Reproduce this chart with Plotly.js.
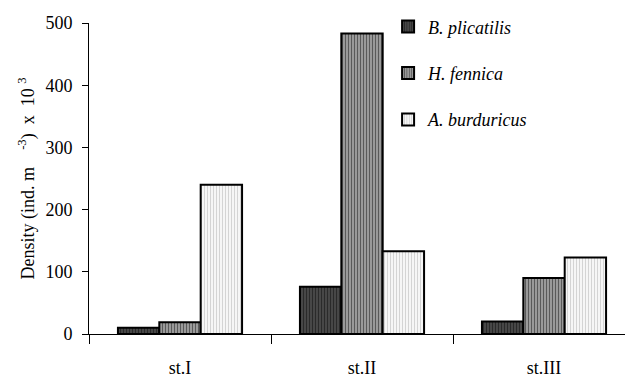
<!DOCTYPE html>
<html>
<head>
<meta charset="utf-8">
<script src="https://cdn.plot.ly/plotly-3.0.1.min.js"></script>
<style>html,body{margin:0;padding:0;background:#fff;}#chart{width:625px;height:378px;}</style>
</head>
<body>
<div id="chart"></div>
<script>
var stations = ['st.I', 'st.II', 'st.III'];
var seriesNames = ['B. plicatilis', 'H. fennica', 'A. burduricus'];
var bPlicatilis = [10, 76, 20];
var hFennica = [19, 483, 90];
var aBurduricus = [240, 133, 123];
var yTicks = [0, 100, 200, 300, 400, 500];

var serif = 'Liberation Serif';
function barTrace(vals, name, group, bg, fg, shape, size, solidity) {
  return {
    type: 'bar', x: stations, y: vals, name: name, legendgroup: group,
    marker: {
      color: bg,
      line: {color: '#000', width: 2},
      pattern: {shape: shape, bgcolor: bg, fgcolor: fg, size: size, solidity: solidity, fillmode: 'replace'}
    },
    hoverinfo: 'none'
  };
}
var data = [
  barTrace(bPlicatilis, seriesNames[0], 'g1', '#4a4a4a', '#2a2a2a', '|', 3, 0.4),
  barTrace(hFennica, seriesNames[1], 'g2', '#9a9a9a', '#5a5a5a', '|', 3, 0.35),
  barTrace(aBurduricus, seriesNames[2], 'g3', '#f6f6f6', '#d4d4d4', '|', 3, 0.35)
];
var layout = {
  width: 625, height: 378,
  margin: {l: 89, r: 0, t: 23, b: 44},
  paper_bgcolor: '#fff', plot_bgcolor: '#fff',
  font: {family: serif, color: '#000', size: 17},
  barmode: 'group', bargap: 0.318, bargroupgap: 0,
  showlegend: true,
  legend: {
    x: 0.558, xanchor: 'left', y: 1.047, yanchor: 'top',
    font: {family: serif, size: 18, style: 'italic', color: '#000'},
    traceorder: 'grouped', tracegroupgap: 20,
    bgcolor: 'rgba(0,0,0,0)'
  },
  xaxis: {
    type: 'category', range: [-0.5, 2.445],
    showline: true, linecolor: '#000', linewidth: 1,
    ticks: 'outside', tickson: 'boundaries', ticklen: 9, tickcolor: '#000', tickwidth: 1,
    showgrid: false, zeroline: false,
    tickfont: {family: serif, size: 18},
    ticklabelstandoff: 17,
    automargin: false, fixedrange: true
  },
  yaxis: {
    range: [0, 500], tickvals: yTicks, ticktext: yTicks.map(String),
    showline: true, linecolor: '#000', linewidth: 1,
    ticks: 'outside', ticklen: 6, tickcolor: '#000', tickwidth: 1,
    showgrid: false, zeroline: false,
    tickfont: {family: serif, size: 18},
    ticklabelstandoff: 6,
    title: {text: 'Density (ind. m <sup>    -3</sup>)  x  10 <sup>3</sup>', font: {family: serif, size: 18}, standoff: 6},
    automargin: false, fixedrange: true
  }
};
Plotly.newPlot('chart', data, layout, {staticPlot: true, displayModeBar: false});
</script>
</body>
</html>
